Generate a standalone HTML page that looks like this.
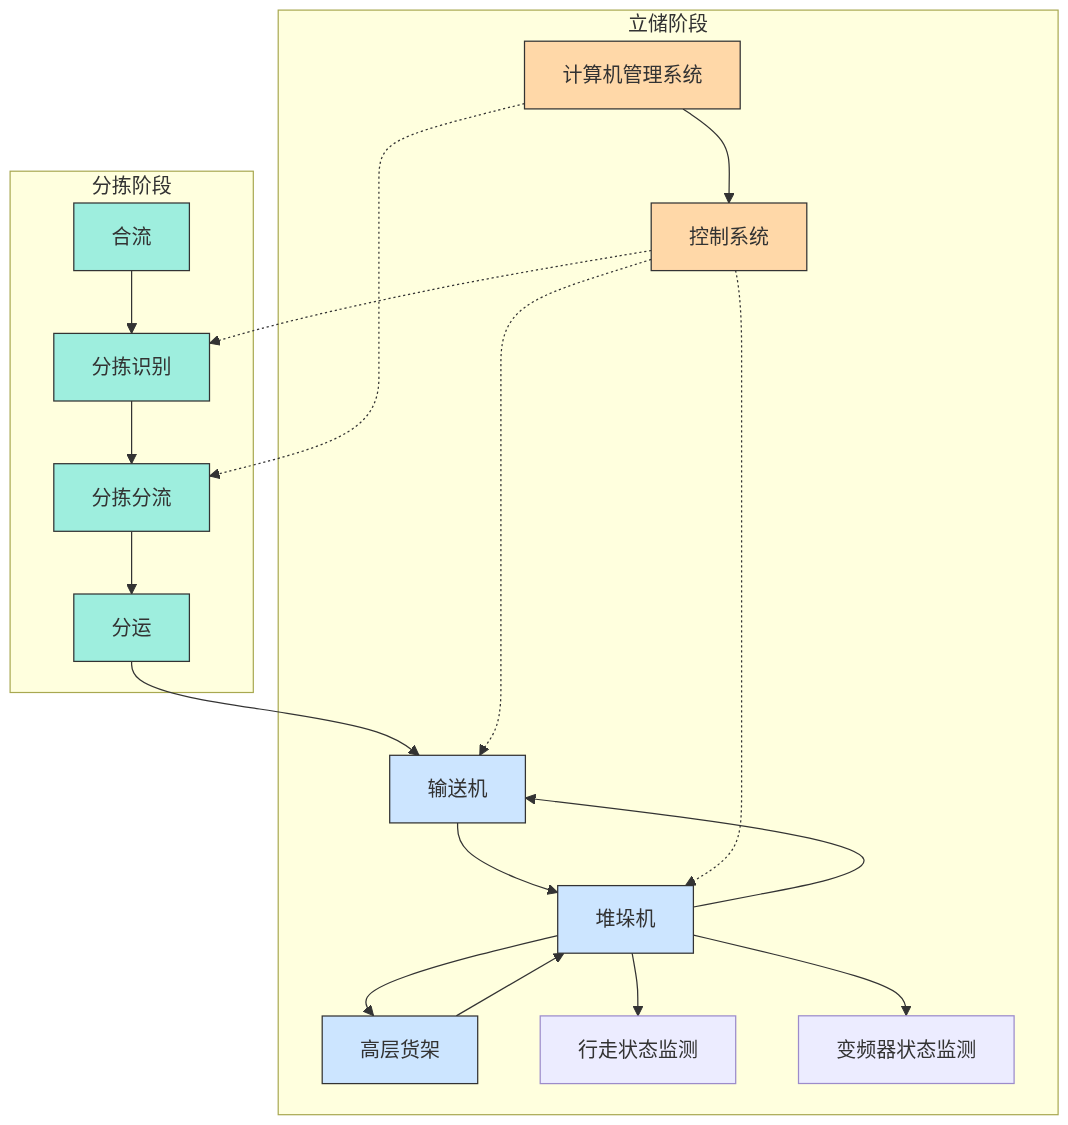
<!DOCTYPE html>
<html lang="zh-CN">
<head>
<meta charset="utf-8">
<title>流程图</title>
<style>
html,body{margin:0;padding:0;background:#fff;}
body{width:1068px;height:1125px;overflow:hidden;}
svg{display:block;will-change:transform;}
text{font-family:"Liberation Sans","Noto Sans CJK SC",sans-serif;font-size:20px;fill:#333;text-anchor:middle;}
.cl{fill:#ffffde;stroke:#a8a850;stroke-width:1.2;}
.o{fill:#ffd8a8;stroke:#333;stroke-width:1.25;}
.t{fill:#9eeede;stroke:#333;stroke-width:1.25;}
.b{fill:#cce5ff;stroke:#333;stroke-width:1.25;}
.p{fill:#ececff;stroke:#9c8ccb;stroke-width:1.25;}
.e{fill:none;stroke:#333;stroke-width:1.25;}
.d{stroke-dasharray:2.2 2.8;}
</style>
</head>
<body>
<svg width="1068" height="1125" viewBox="0 0 1068 1125">
<defs>
<marker id="ah" viewBox="0 0 10 10" refX="10" refY="5" markerUnits="userSpaceOnUse" markerWidth="10" markerHeight="10" orient="auto"><path d="M0,0 L10,5 L0,10 z" fill="#333" stroke="#333" stroke-width="1"/></marker>
</defs>

<g>
<rect class="cl" x="278.2" y="10.1" width="779.9" height="1104.6"/>
<text x="668.1" y="24.4" dy="0.35em">立储阶段</text>
<rect class="cl" x="10.1" y="171.2" width="243.2" height="521.3"/>
<text x="131.7" y="185.5" dy="0.35em">分拣阶段</text>
</g>
<g>
<path class="e" d="M131.6,270.6 L131.6,333.4" marker-end="url(#ah)"/>
<path class="e" d="M131.6,401 L131.6,463.7" marker-end="url(#ah)"/>
<path class="e" d="M131.6,531.3 L131.6,594" marker-end="url(#ah)"/>
<path class="e" d="M131.6,661.4 L131.6,664.5 C131.7,667.6 131.8,673.7 139.9,679.8 C148.0,685.8 164.2,691.8 190.3,697.3 C216.5,702.8 252.6,707.8 287.2,713.3 C321.8,718.8 354.9,724.7 376.6,731.8 C398.3,738.8 408.7,747.1 413.8,751.2 L419.0,755.3" marker-end="url(#ah)"/>
<path class="e" d="M683.0,108.9 L690.7,114.1 C698.4,119.3 713.7,129.6 721.5,140.6 C729.2,151.5 729.3,163.0 729.3,173.5 C729.2,184.0 729.1,193.5 729.0,198.2 L728.9,203.0" marker-end="url(#ah)"/>
<path class="e" d="M457.6,822.9 L457.6,827.6 C457.6,832.3 457.7,841.7 468.1,851.4 C478.6,861.1 499.4,871.1 516.1,878.0 C532.7,884.9 545.2,888.7 551.5,890.6 L557.7,892.5" marker-end="url(#ah)"/>
<path class="e" d="M693.5,907.0 L704.7,904.8 C715.8,902.7 738.2,898.4 761.2,894.0 C784.3,889.7 808.0,885.3 828.5,879.6 C849.0,873.8 866.1,866.6 863.8,859.4 C861.4,852.2 839.6,845.0 809.5,838.2 C779.4,831.5 741.1,825.2 692.3,818.6 C643.6,812.0 584.5,805.0 555.0,801.5 L525.4,798.0" marker-end="url(#ah)"/>
<path class="e" d="M557.7,935.7 L544.7,938.7 C531.8,941.8 505.9,947.9 479.4,954.7 C453.0,961.6 426.0,969.3 405.7,976.5 C385.3,983.7 371.6,990.5 367.4,997.0 C363.1,1003.4 368.3,1009.5 370.9,1012.6 L373.5,1015.6" marker-end="url(#ah)"/>
<path class="e" d="M456.3,1015.9 L563.8,953.2" marker-end="url(#ah)"/>
<path class="e" d="M632.1,953.2 L633.1,958.5 C634.0,963.7 636.0,974.3 636.9,982.1 C637.9,989.9 637.8,994.9 637.8,1000.1 C637.8,1005.3 637.9,1010.6 638.0,1013.2 L638.0,1015.9" marker-end="url(#ah)"/>
<path class="e" d="M693.5,935.1 L707.9,938.5 C722.3,941.9 751.1,948.7 778.9,955.5 C806.7,962.4 833.5,969.3 854.5,975.7 C875.6,982.1 890.9,988.1 898.5,994.7 C906.2,1001.2 906.2,1008.4 906.2,1012.0 L906.2,1015.6" marker-end="url(#ah)"/>
<path class="e d" d="M524.5,103.6 L510.4,107.1 C496.2,110.6 468.0,117.6 444.0,124.4 C420.0,131.3 400.3,137.9 390.2,146.5 C380.0,155.0 378.9,165.3 378.9,180.9 L378.9,378 C378.9,434.4 327.2,446.7 209.6,476.1" marker-end="url(#ah)"/>
<path class="e d" d="M651.3,250.5 L618.9,255.9 C586.5,261.3 521.7,272.2 460.4,284.0 C399.0,295.9 341.1,308.8 299.8,318.8 C258.6,328.8 234.1,336.0 221.9,339.6 L209.6,343.2" marker-end="url(#ah)"/>
<path class="e d" d="M651.3,259.4 C538.3,295.6 500.9,301.4 500.9,362.0 L500.9,690 C500.9,733.4 489.6,737.1 479.8,755.3" marker-end="url(#ah)"/>
<path class="e d" d="M735.6,270.6 C740.5,292.8 741.6,322.9 741.6,350.0 L741.6,791.5 C741.6,844.8 739.2,855.5 685.6,885.5" marker-end="url(#ah)"/>
</g>
<g>
<rect class="o" x="524.5" y="41.2" width="215.7" height="67.7"/>
<text x="632.4" y="75.1" dy="0.35em">计算机管理系统</text>
<rect class="o" x="651.2" y="203.0" width="155.6" height="67.6"/>
<text x="729.0" y="236.8" dy="0.35em">控制系统</text>
<rect class="t" x="73.8" y="203.0" width="115.6" height="67.6"/>
<text x="131.6" y="236.8" dy="0.35em">合流</text>
<rect class="t" x="53.8" y="333.4" width="155.7" height="67.6"/>
<text x="131.6" y="367.2" dy="0.35em">分拣识别</text>
<rect class="t" x="53.8" y="463.7" width="155.7" height="67.6"/>
<text x="131.6" y="497.5" dy="0.35em">分拣分流</text>
<rect class="t" x="73.8" y="594.0" width="115.6" height="67.4"/>
<text x="131.6" y="627.7" dy="0.35em">分运</text>
<rect class="b" x="389.7" y="755.3" width="135.7" height="67.6"/>
<text x="457.5" y="789.1" dy="0.35em">输送机</text>
<rect class="b" x="557.7" y="885.6" width="135.7" height="67.6"/>
<text x="625.6" y="919.4" dy="0.35em">堆垛机</text>
<rect class="b" x="322.2" y="1016.0" width="155.5" height="67.6"/>
<text x="399.9" y="1049.8" dy="0.35em">高层货架</text>
<rect class="p" x="540.2" y="1015.9" width="195.5" height="67.7"/>
<text x="638.0" y="1049.8" dy="0.35em">行走状态监测</text>
<rect class="p" x="798.5" y="1015.8" width="215.6" height="67.7"/>
<text x="906.3" y="1049.6" dy="0.35em">变频器状态监测</text>
</g>
</svg>
</body>
</html>
